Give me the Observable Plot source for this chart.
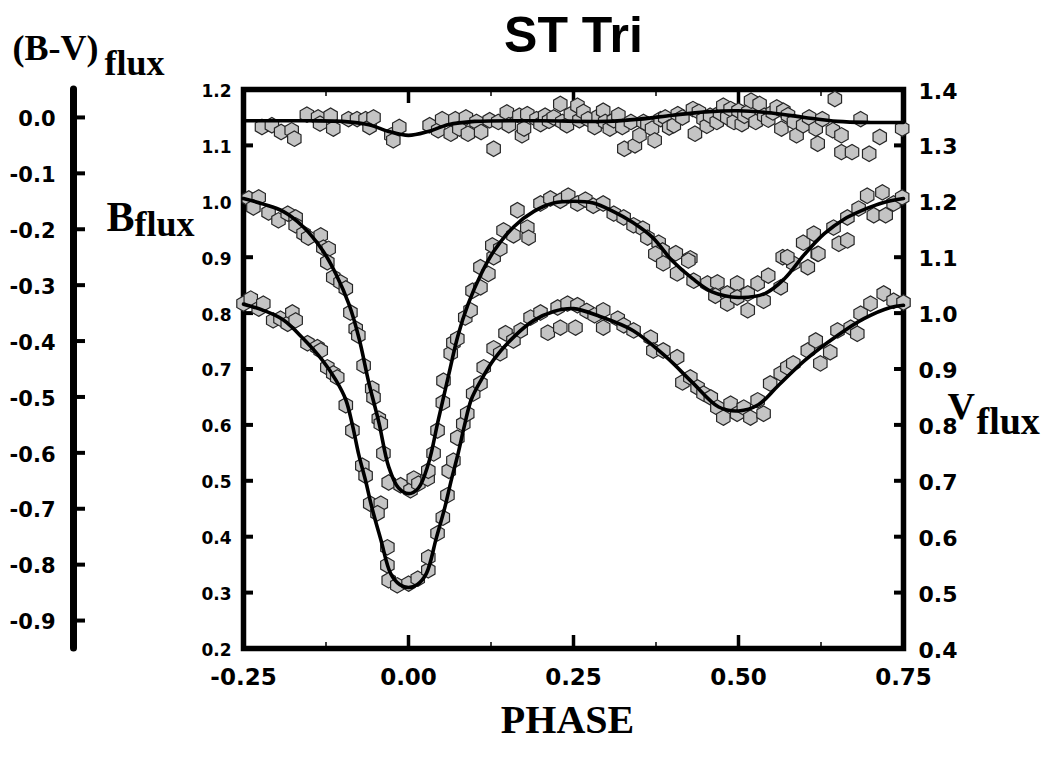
<!DOCTYPE html>
<html><head><meta charset="utf-8">
<script src="https://cdn.jsdelivr.net/npm/d3@7"></script>
<script src="https://cdn.jsdelivr.net/npm/@observablehq/plot@0.6"></script>
<style>html,body{margin:0;padding:0;background:#fff;} #chart svg{display:block;}</style>
</head><body><div id="chart"></div>
<script>
// ---- axis tick values ----
const xTicks = [-0.25, 0, 0.25, 0.5, 0.75];
const xMinorTicks = [-0.125, 0.125, 0.375, 0.625];
const bTicks = [0.2, 0.3, 0.4, 0.5, 0.6, 0.7, 0.8, 0.9, 1.0, 1.1, 1.2];
const vTicks = [0.4, 0.5, 0.6, 0.7, 0.8, 0.9, 1.0, 1.1, 1.2, 1.3, 1.4];
const bvTicks = [0.0, -0.1, -0.2, -0.3, -0.4, -0.5, -0.6, -0.7, -0.8, -0.9];
const vAxisOffset = 0.2;   // V axis reads B axis + 0.2
const bvAxisOffset = 1.15; // (B-V) axis 0.0 sits at B = 1.15

// ---- observed B flux [phase, flux] ----
const bObs = [[-0.242,1.005],[-0.227,1.007],[-0.235,0.989],[-0.212,0.980],[-0.197,0.966],[-0.183,0.978],[-0.171,0.971],[-0.171,0.957],[-0.159,0.942],[-0.152,0.935],[-0.133,0.939],[-0.129,0.917],[-0.121,0.915],[-0.123,0.891],[-0.114,0.864],[-0.103,0.855],[-0.095,0.844],[-0.088,0.801],[-0.080,0.772],[-0.076,0.760],[-0.068,0.706],[-0.055,0.665],[-0.053,0.649],[-0.045,0.611],[-0.042,0.602],[-0.038,0.549],[-0.030,0.497],[-0.012,0.492],[0.003,0.483],[0.008,0.504],[0.015,0.495],[0.029,0.504],[0.030,0.518],[0.038,0.549],[0.044,0.590],[0.052,0.640],[0.053,0.679],[0.064,0.728],[0.068,0.747],[0.074,0.754],[0.086,0.792],[0.094,0.805],[0.097,0.840],[0.109,0.846],[0.109,0.882],[0.121,0.870],[0.129,0.900],[0.127,0.921],[0.139,0.915],[0.144,0.948],[0.159,0.939],[0.165,0.984],[0.180,0.953],[0.182,0.935],[0.200,0.996],[0.215,1.005],[0.230,1.001],[0.242,1.010],[0.256,0.996],[0.268,1.003],[0.280,0.992],[0.295,0.996],[0.311,0.978],[0.326,0.971],[0.341,0.957],[0.355,0.951],[0.362,0.935],[0.379,0.926],[0.385,0.912],[0.405,0.907],[0.427,0.898],[0.374,0.906],[0.386,0.889],[0.407,0.871],[0.424,0.894],[0.432,0.858],[0.453,0.853],[0.468,0.855],[0.465,0.831],[0.483,0.835],[0.483,0.817],[0.498,0.853],[0.498,0.828],[0.514,0.835],[0.514,0.805],[0.529,0.853],[0.538,0.822],[0.545,0.867],[0.564,0.846],[0.567,0.900],[0.583,0.889],[0.605,0.882],[0.620,0.906],[0.574,0.900],[0.598,0.926],[0.614,0.942],[0.621,0.906],[0.644,0.953],[0.652,0.924],[0.665,0.930],[0.665,0.971],[0.682,0.987],[0.695,1.010],[0.705,0.975],[0.718,1.016],[0.723,0.975],[0.735,0.996],[0.748,1.007]];

// ---- observed V flux [phase, flux] ----
const vObs = [[-0.250,1.017],[-0.239,1.026],[-0.227,1.008],[-0.220,1.017],[-0.205,0.987],[-0.194,0.990],[-0.183,0.981],[-0.176,1.001],[-0.171,0.987],[-0.153,0.946],[-0.138,0.939],[-0.133,0.933],[-0.123,0.903],[-0.114,0.892],[-0.108,0.885],[-0.095,0.835],[-0.085,0.790],[-0.070,0.727],[-0.065,0.709],[-0.058,0.659],[-0.042,0.659],[-0.047,0.642],[-0.032,0.581],[-0.032,0.549],[-0.030,0.522],[-0.017,0.513],[0.000,0.516],[0.014,0.525],[0.030,0.540],[0.030,0.563],[0.044,0.606],[0.052,0.634],[0.059,0.674],[0.061,0.718],[0.068,0.736],[0.074,0.777],[0.083,0.802],[0.089,0.820],[0.098,0.856],[0.109,0.874],[0.114,0.903],[0.129,0.937],[0.139,0.928],[0.147,0.964],[0.159,0.951],[0.170,0.969],[0.185,0.992],[0.200,1.001],[0.211,0.965],[0.226,1.010],[0.230,0.974],[0.241,1.017],[0.253,0.974],[0.256,1.014],[0.270,1.004],[0.282,0.996],[0.295,1.005],[0.295,0.974],[0.317,0.990],[0.326,0.978],[0.341,0.969],[0.367,0.956],[0.371,0.933],[0.386,0.933],[0.407,0.921],[0.415,0.876],[0.427,0.885],[0.438,0.867],[0.447,0.856],[0.458,0.849],[0.468,0.831],[0.477,0.813],[0.488,0.838],[0.498,0.820],[0.508,0.831],[0.518,0.813],[0.529,0.844],[0.538,0.820],[0.548,0.874],[0.564,0.892],[0.574,0.903],[0.583,0.910],[0.605,0.933],[0.617,0.951],[0.624,0.910],[0.639,0.930],[0.650,0.969],[0.670,0.974],[0.680,0.963],[0.685,0.999],[0.700,1.017],[0.720,1.035],[0.735,1.022],[0.750,1.019]];

// ---- observed (B-V) flux [phase, value] ----
const bvObs = [[-0.222,-0.017],[-0.207,-0.014],[-0.193,-0.026],[-0.177,-0.023],[-0.173,-0.038],[-0.154,0.005],[-0.137,0.000],[-0.134,-0.011],[-0.118,0.003],[-0.114,-0.020],[-0.091,-0.003],[-0.078,-0.003],[-0.065,-0.003],[-0.059,-0.017],[-0.053,0.000],[-0.026,-0.032],[-0.023,-0.041],[-0.014,-0.017],[0.032,-0.014],[0.045,-0.023],[0.051,-0.003],[0.064,-0.029],[0.071,-0.003],[0.077,-0.020],[0.087,0.000],[0.090,-0.029],[0.103,-0.008],[0.110,-0.026],[0.123,-0.005],[0.129,-0.056],[0.136,-0.008],[0.149,0.009],[0.152,-0.014],[0.168,0.003],[0.172,-0.032],[0.175,-0.020],[0.180,0.006],[0.194,-0.003],[0.200,-0.012],[0.207,0.003],[0.213,-0.006],[0.220,0.000],[0.230,0.024],[0.233,-0.008],[0.240,-0.014],[0.246,0.006],[0.256,0.021],[0.259,-0.005],[0.265,0.010],[0.272,-0.003],[0.282,-0.017],[0.288,0.002],[0.295,0.012],[0.298,-0.008],[0.305,-0.020],[0.311,-0.005],[0.318,0.004],[0.324,-0.017],[0.327,-0.056],[0.337,-0.008],[0.343,-0.050],[0.350,-0.032],[0.356,-0.008],[0.362,-0.012],[0.369,-0.020],[0.373,-0.041],[0.382,-0.003],[0.389,0.000],[0.395,-0.018],[0.402,-0.014],[0.408,0.006],[0.415,0.000],[0.431,0.015],[0.434,-0.029],[0.440,0.010],[0.447,-0.003],[0.452,-0.015],[0.457,0.003],[0.467,-0.008],[0.472,0.008],[0.477,0.021],[0.483,0.000],[0.488,0.015],[0.493,-0.008],[0.500,0.012],[0.505,-0.012],[0.509,0.003],[0.515,0.010],[0.519,0.030],[0.526,-0.008],[0.532,0.024],[0.539,0.003],[0.545,-0.004],[0.552,0.009],[0.558,0.018],[0.565,-0.020],[0.568,0.012],[0.575,0.004],[0.584,-0.008],[0.588,-0.032],[0.598,-0.014],[0.607,0.000],[0.617,-0.020],[0.620,-0.047],[0.627,-0.003],[0.643,-0.023],[0.646,0.033],[0.656,-0.032],[0.656,-0.062],[0.672,-0.062],[0.685,-0.003],[0.698,-0.065],[0.714,-0.035],[0.748,-0.020]];

// ---- model (fitted) curves [phase, value] ----
const bModel = [[-0.25,1.005],[-0.22,0.995],[-0.19,0.982],[-0.16,0.955],[-0.13,0.912],[-0.11,0.870],[-0.09,0.815],[-0.075,0.755],[-0.06,0.675],[-0.045,0.605],[-0.03,0.525],[-0.015,0.487],[0.0,0.477],[0.015,0.487],[0.03,0.530],[0.045,0.608],[0.06,0.685],[0.075,0.760],[0.09,0.815],[0.11,0.870],[0.13,0.912],[0.16,0.955],[0.19,0.982],[0.22,0.997],[0.25,1.000],[0.28,0.997],[0.31,0.982],[0.34,0.962],[0.37,0.935],[0.40,0.893],[0.43,0.862],[0.46,0.838],[0.50,0.828],[0.54,0.835],[0.57,0.862],[0.60,0.905],[0.63,0.942],[0.66,0.968],[0.69,0.985],[0.72,0.998],[0.75,1.005]];
const vModel = [[-0.25,1.016],[-0.22,1.005],[-0.19,0.988],[-0.16,0.955],[-0.13,0.915],[-0.11,0.880],[-0.095,0.845],[-0.085,0.800],[-0.075,0.745],[-0.065,0.700],[-0.055,0.650],[-0.042,0.595],[-0.027,0.534],[-0.013,0.514],[0.0,0.509],[0.013,0.514],[0.027,0.534],[0.042,0.597],[0.055,0.652],[0.065,0.702],[0.075,0.748],[0.085,0.800],[0.095,0.845],[0.11,0.880],[0.13,0.918],[0.16,0.958],[0.19,0.987],[0.22,1.003],[0.25,1.008],[0.29,0.994],[0.34,0.969],[0.39,0.922],[0.43,0.876],[0.47,0.832],[0.50,0.825],[0.53,0.836],[0.56,0.870],[0.60,0.915],[0.65,0.960],[0.69,0.990],[0.73,1.010],[0.75,1.014]];
const bvModel = [[-0.25,-0.006],[-0.15,-0.006],[-0.10,-0.007],[-0.06,-0.013],[-0.03,-0.025],[0.0,-0.032],[0.03,-0.025],[0.06,-0.013],[0.10,-0.007],[0.20,-0.006],[0.30,-0.007],[0.35,-0.003],[0.40,0.004],[0.45,0.010],[0.50,0.012],[0.55,0.008],[0.60,0.000],[0.65,-0.007],[0.70,-0.009],[0.75,-0.009]];

// ---- tables for Plot ----
const toRows = (arr, off = 0) => arr.map(([phase, value]) => ({phase, value, y: value + off}));
const bRows = toRows(bObs), vRows = toRows(vObs, -vAxisOffset), bvRows = toRows(bvObs, bvAxisOffset);
const bLine = toRows(bModel), vLine = toRows(vModel, -vAxisOffset), bvLine = toRows(bvModel, bvAxisOffset);

const sans = "DejaVu Sans";
const serif = "Liberation Serif";
const clean = v => (Math.abs(v) < 1e-9 ? 0 : v);
const dotStyle = {x: "phase", y: "y", symbol: "hexagon", r: 6.7, fill: "#c4c4c4", stroke: "#262626", strokeWidth: 1.2};
const lineStyle = {x: "phase", y: "y", curve: "catmull-rom", stroke: "black", strokeWidth: 3.6};
const label = (t, dx, dy, size, font, extra = {}) =>
  Plot.text([t], {text: d => d, frameAnchor: "top-left", dx, dy, textAnchor: "start", lineAnchor: "bottom",
    fontSize: size, fontWeight: "bold", fontFamily: font, fill: "black", ...extra});
// tick-only and text-only axis helpers
const ticksX = (anchor, ticks, size, sw) => Plot.axisX({anchor, ticks, tickSize: size, strokeWidth: sw, fill: "none", label: null, stroke: "black"});
const ticksY = (anchor, ticks, size, sw, extra = {}) => Plot.axisY({anchor, ticks, tickSize: size, strokeWidth: sw, fill: "none", label: null, stroke: "black", ...extra});
const textY = (anchor, ticks, fmt, pad, size, extra = {}) => Plot.axisY({anchor, ticks, tickFormat: fmt, tickSize: 0, tickPadding: pad, label: null,
  fontSize: size, fontWeight: "bold", fontFamily: sans, fill: "black", ...extra});

const FL = 243, FT = 89; // frame origin used for label offsets

const chart = Plot.plot({
  width: 1050, height: 758,
  marginLeft: 243, marginRight: 147, marginTop: 89, marginBottom: 110,
  style: {background: "white", overflow: "visible"},
  x: {domain: [-0.25, 0.75], label: null},
  y: {domain: [0.2, 1.2], label: null},
  marks: [
    Plot.frame({stroke: "black", strokeWidth: 5.5}),
    // x ticks (inward)
    ticksX("bottom", xTicks, -13, 3.5),
    ticksX("bottom", xMinorTicks, -6, 1.5),
    ticksX("top", xTicks, -13, 3.5),
    ticksX("top", xMinorTicks, -6, 1.5),
    Plot.axisX({anchor: "bottom", ticks: xTicks, tickFormat: d => clean(d).toFixed(2), tickSize: 0, tickPadding: 20, label: null,
      fontSize: 23, fontWeight: "bold", fontFamily: sans, fill: "black"}),
    // B axis (left of frame)
    ticksY("left", bTicks, -10, 4),
    textY("left", bTicks, d => d.toFixed(1), 12, 17, {dy: 2}),
    // V axis (right of frame)
    ticksY("right", vTicks.map(v => v - vAxisOffset), -10, 4),
    textY("right", vTicks.map(v => v - vAxisOffset), d => clean(d + vAxisOffset).toFixed(1), 15, 22, {dy: 2}),
    // (B-V) outer axis
    Plot.ruleX([-0.25], {y1: 0.2, y2: 1.2, dx: -170, stroke: "black", strokeWidth: 7, strokeLinecap: "round"}),
    ticksY("left", bvTicks.map(v => v + bvAxisOffset), -12, 4, {dx: -170}),
    textY("left", bvTicks.map(v => v + bvAxisOffset), d => clean(d - bvAxisOffset).toFixed(1), 18, 21, {dx: -170, dy: 2}),
    // data
    Plot.dot(bvRows, dotStyle),
    Plot.dot(bRows, dotStyle),
    Plot.dot(vRows, dotStyle),
    Plot.line(bvLine, lineStyle),
    Plot.line(bLine, lineStyle),
    Plot.line(vLine, lineStyle),
    // titles and axis names
    Plot.text(["ST Tri"], {text: d => d, frameAnchor: "top", dy: -38, lineAnchor: "bottom", fontSize: 50, fontWeight: "bold", fontFamily: "Liberation Sans", fill: "black"}),
    Plot.text(["PHASE"], {text: d => d, frameAnchor: "bottom", dx: -6, dy: 84, lineAnchor: "bottom", fontSize: 40, fontWeight: "bold", fontFamily: serif, fill: "black"}),
    label("(B-V)", 12 - FL, 59 - FT, 36, serif),
    label("flux", 104 - FL, 74 - FT, 36, serif),
    label("B", 106 - FL, 230 - FT, 42, serif),
    label("flux", 134 - FL, 235 - FT, 36, serif),
    label("V", 947 - FL, 418 - FT, 38, serif),
    label("flux", 976 - FL, 433 - FT, 38, serif)
  ]
});
document.getElementById("chart").appendChild(chart);
</script>
</body></html>
